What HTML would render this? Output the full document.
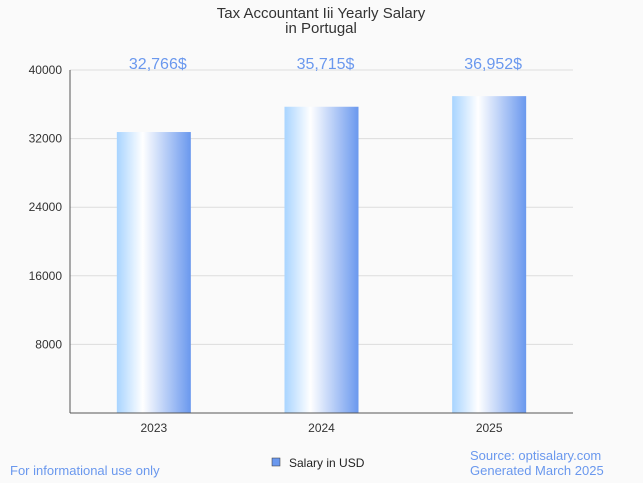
<!DOCTYPE html>
<html><head><meta charset="utf-8"><style>
body{margin:0;background:#fafafa;font-family:"Liberation Sans",sans-serif;}
svg{display:block}
</style></head><body>
<svg id="c" width="643" height="483" xmlns="http://www.w3.org/2000/svg">
<defs><linearGradient id="g" x1="0" x2="1" y1="0" y2="0">
<stop offset="0" stop-color="#a8d4ff"/><stop offset="0.35" stop-color="#ffffff"/><stop offset="1" stop-color="#6a98ee"/>
</linearGradient></defs>
<rect width="643" height="483" fill="#fafafa"/>
<text x="321" y="18" text-anchor="middle" font-size="15" fill="#333">Tax Accountant Iii Yearly Salary</text>
<text x="321" y="33" text-anchor="middle" font-size="15" fill="#333">in Portugal</text>
<g id="grid"></g><g id="bars"></g>
<line x1="70" y1="70" x2="70" y2="413" stroke="#555"/>
<line x1="70" y1="413" x2="573" y2="413" stroke="#555"/>
<text x="10" y="475" font-size="13" fill="#6a98ee">For informational use only</text>
<rect x="272" y="458" width="8" height="8" fill="#6a98ee" stroke="#333" stroke-width="0.5"/>
<text x="289" y="467" font-size="12" fill="#222">Salary in USD</text>
<text x="470" y="460" font-size="13" fill="#6a98ee">Source: optisalary.com</text>
<text x="470" y="475" font-size="13" fill="#6a98ee">Generated March 2025</text>
</svg>
<script>
const categories=["2023","2024","2025"];
const values=[32766,35715,36952];
const valueLabels=["32,766$","35,715$","36,952$"];
const yTicks=[8000,16000,24000,32000,40000];
const NS="http://www.w3.org/2000/svg";
const x0=70,x1=573,yTop=70,yBot=413,yMax=40000;
const y=v=>yBot-v/yMax*(yBot-yTop);
const bw=(x1-x0)/categories.length;
const grid=document.getElementById('grid'),bars=document.getElementById('bars');
function mk(t,a,p){const e=document.createElementNS(NS,t);for(const k in a)e.setAttribute(k,a[k]);p.appendChild(e);return e;}
yTicks.forEach(t=>{
 const l=mk('line',{x1:x0,x2:x1,y1:y(t),y2:y(t),stroke:'#ddd'},grid);
 
 
 const tx=mk('text',{x:x0-8,y:y(t)+4,'text-anchor':'end','font-size':12,fill:'#333'},grid);
 tx.textContent=t;
 
 
});
categories.forEach((c,i)=>{
 const cx=x0+bw*(i+0.5),w=74;
 const r=mk('rect',{x:cx-w/2,y:y(values[i]),width:w,height:yBot-y(values[i]),fill:'url(#g)'},bars);
 
 
 const vl=mk('text',{x:cx+4,y:69,'text-anchor':'middle','font-size':16,fill:'#6a98ee'},bars);
 vl.textContent=valueLabels[i];
 
 
 const xl=mk('text',{x:cx,y:432,'text-anchor':'middle','font-size':12,fill:'#333'},bars);
 xl.textContent=c;
 
 
});
</script>
</body></html>
